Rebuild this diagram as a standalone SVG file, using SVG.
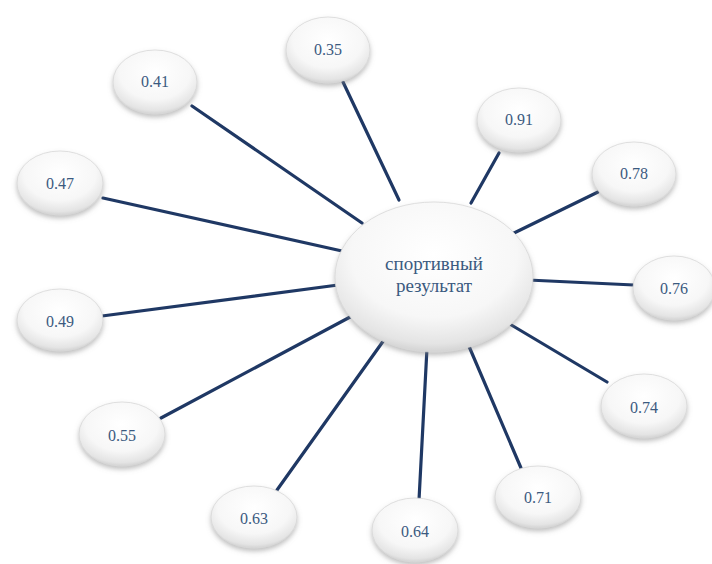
<svg xmlns="http://www.w3.org/2000/svg" width="712" height="564" viewBox="0 0 712 564">
<defs>
<radialGradient id="g" cx="0.5" cy="0.35" r="0.7">
<stop offset="0" stop-color="#ffffff"/>
<stop offset="0.6" stop-color="#f7f7f7"/>
<stop offset="0.85" stop-color="#e4e4e4"/>
<stop offset="1" stop-color="#c4c4c4"/>
</radialGradient>
<filter id="sh" x="-20%" y="-20%" width="140%" height="150%">
<feDropShadow dx="0" dy="3" stdDeviation="2.5" flood-color="#808080" flood-opacity="0.5"/>
</filter>
</defs>
<style>
.c line{stroke:#1f3864;stroke-width:3.2;stroke-linecap:round}
.n ellipse{fill:url(#g);stroke:#d8d8d8;stroke-width:0.8;filter:url(#sh)}
.n text{font-family:"Times New Roman","Liberation Serif",serif;font-size:16px;fill:#3b5a80;text-anchor:middle}
#center text{font-size:19px}
</style>
<rect width="712" height="564" fill="#ffffff"/>
<g class="c" id="connectors">
<line x1="192" y1="106" x2="362" y2="223"/>
<line x1="343" y1="82" x2="399" y2="200"/>
<line x1="499" y1="153" x2="471" y2="203"/>
<line x1="598" y1="192" x2="512" y2="234"/>
<line x1="103" y1="198" x2="342" y2="251"/>
<line x1="634" y1="285" x2="528" y2="280"/>
<line x1="102" y1="316" x2="338" y2="285"/>
<line x1="607" y1="382" x2="508" y2="323"/>
<line x1="161" y1="418" x2="352" y2="316"/>
<line x1="521" y1="468" x2="468" y2="344"/>
<line x1="277" y1="490" x2="384" y2="340"/>
<line x1="419" y1="500" x2="427" y2="348"/>
</g>
<g class="n" id="center"><ellipse cx="434" cy="277" rx="99" ry="75"/><text x="434" y="270">спортивный</text><text x="434" y="292">результат</text></g>
<g class="n" id="n035"><ellipse cx="328" cy="50" rx="42" ry="33"/><text x="328" y="55">0.35</text></g>
<g class="n" id="n041"><ellipse cx="155" cy="82" rx="42" ry="32"/><text x="155" y="87">0.41</text></g>
<g class="n" id="n091"><ellipse cx="519" cy="120" rx="42" ry="32"/><text x="519" y="125">0.91</text></g>
<g class="n" id="n078"><ellipse cx="634" cy="174" rx="42" ry="32"/><text x="634" y="179">0.78</text></g>
<g class="n" id="n047"><ellipse cx="60" cy="183" rx="43" ry="32"/><text x="60" y="189">0.47</text></g>
<g class="n" id="n076"><ellipse cx="674" cy="288" rx="41" ry="32"/><text x="674" y="294">0.76</text></g>
<g class="n" id="n049"><ellipse cx="60" cy="320" rx="43" ry="31"/><text x="60" y="327">0.49</text></g>
<g class="n" id="n074"><ellipse cx="644" cy="406" rx="43" ry="32"/><text x="644" y="413">0.74</text></g>
<g class="n" id="n055"><ellipse cx="122" cy="434" rx="43" ry="32"/><text x="122" y="441">0.55</text></g>
<g class="n" id="n071"><ellipse cx="538" cy="497" rx="43" ry="31"/><text x="538" y="503">0.71</text></g>
<g class="n" id="n063"><ellipse cx="254" cy="517" rx="43" ry="31"/><text x="254" y="524">0.63</text></g>
<g class="n" id="n064"><ellipse cx="415" cy="530" rx="43" ry="32"/><text x="415" y="537">0.64</text></g>
</svg>
